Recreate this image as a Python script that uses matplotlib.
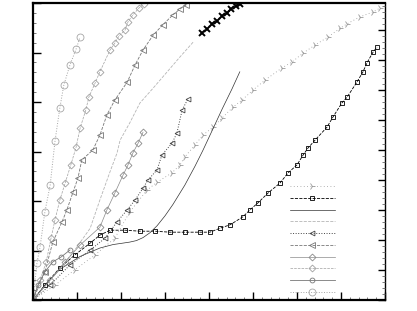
import matplotlib
matplotlib.use("Agg")
import matplotlib.pyplot as plt
from matplotlib.ticker import MultipleLocator

# curves (x 0..8, y 0..6)
a_x = [0, 0.09, 0.16, 0.27, 0.39, 0.50, 0.61, 0.70, 0.84, 0.98, 1.07]
a_y = [0, 0.75, 1.07, 1.78, 2.32, 3.21, 3.88, 4.34, 4.75, 5.07, 5.31]

b_x = [0, 0.16, 0.30, 0.41, 0.50, 0.61, 0.73, 0.86, 0.98, 1.07, 1.20, 1.27, 1.41, 1.52,
       1.75, 1.86, 1.95, 2.09, 2.16, 2.27, 2.41, 2.52]
b_y = [0, 0.40, 0.77, 1.25, 1.62, 2.02, 2.36, 2.73, 3.09, 3.47, 3.84, 4.10, 4.38, 4.61,
       5.05, 5.19, 5.33, 5.45, 5.62, 5.76, 5.90, 5.98]

c_x = [0, 0.27, 0.45, 0.66, 0.77, 0.91, 1.02, 1.11, 1.36, 1.52, 1.68, 1.86, 2.14, 2.32,
       2.50, 2.73, 2.95, 3.18, 3.34, 3.48]
c_y = [0, 0.57, 1.17, 1.58, 1.82, 2.18, 2.46, 2.83, 3.03, 3.33, 3.74, 4.04, 4.40, 4.75,
       5.05, 5.35, 5.56, 5.76, 5.88, 5.96]

d_x = [0, 0.5, 0.95, 1.30, 1.52, 1.75, 1.91, 1.98, 2.20, 2.43, 2.73, 3.05, 3.34, 3.64]
d_y = [0, 0.51, 1.01, 1.45, 2.02, 2.59, 2.97, 3.23, 3.58, 3.98, 4.28, 4.61, 4.91, 5.21]

x_x = [3.84, 3.95, 4.07, 4.18, 4.30, 4.41, 4.50, 4.61, 4.70]
x_y = [5.39, 5.47, 5.58, 5.64, 5.74, 5.80, 5.88, 5.94, 5.98]

e_x = [0, 0.39, 0.73, 1.07, 1.52, 1.68, 1.86, 2.05, 2.16, 2.27, 2.39, 2.50]
e_y = [0, 0.40, 0.77, 1.11, 1.47, 1.82, 2.16, 2.53, 2.73, 2.97, 3.17, 3.39]

g_x = [0, 0.39, 0.84, 1.30, 1.64, 1.91, 2.14, 2.32, 2.50, 2.61, 2.82, 2.93, 3.16, 3.27,
       3.39, 3.52]
g_y = [0, 0.30, 0.71, 1.01, 1.25, 1.58, 1.82, 2.02, 2.26, 2.42, 2.63, 2.93, 3.17, 3.37,
       3.84, 4.06]

h_x = [0, 0.27, 0.61, 1.07, 1.52, 1.82, 2.05, 2.20, 2.35, 2.50, 2.66, 2.82, 3.0, 3.18,
       3.45, 3.68, 3.86, 4.07, 4.30, 4.52, 4.70]
h_y = [0, 0.30, 0.62, 0.88, 1.05, 1.12, 1.15, 1.17, 1.20, 1.26, 1.36, 1.50, 1.70, 1.93,
       2.32, 2.70, 3.02, 3.42, 3.86, 4.26, 4.61]

i_x = [0, 0.27, 0.61, 0.95, 1.30, 1.52, 1.75, 2.09, 2.43, 2.77, 3.11, 3.45, 3.80, 4.02,
       4.25, 4.48, 4.77, 4.93, 5.11, 5.34, 5.61, 5.80, 6.0, 6.14, 6.25, 6.41, 6.68, 6.82,
       7.02, 7.14, 7.36, 7.50, 7.59, 7.73, 7.82]
i_y = [0, 0.30, 0.65, 0.91, 1.15, 1.31, 1.41, 1.41, 1.39, 1.39, 1.37, 1.37, 1.37, 1.37,
       1.45, 1.52, 1.68, 1.82, 1.96, 2.16, 2.36, 2.57, 2.73, 2.93, 3.07, 3.23, 3.49, 3.70,
       3.98, 4.10, 4.40, 4.61, 4.79, 5.01, 5.11]

j_x = [0, 0.5, 0.95, 1.41, 1.86, 2.20, 2.59, 2.82, 3.16, 3.34, 3.45, 3.68, 3.86, 4.09,
       4.30, 4.55, 4.75, 5.0, 5.27, 5.66, 5.89, 6.14, 6.41, 6.70, 6.98, 7.14, 7.43, 7.73, 7.89]
j_y = [0, 0.30, 0.61, 0.91, 1.25, 1.78, 2.22, 2.38, 2.57, 2.73, 2.89, 3.13, 3.33, 3.49,
       3.68, 3.90, 4.04, 4.24, 4.44, 4.69, 4.81, 4.99, 5.15, 5.31, 5.49, 5.58, 5.72, 5.82, 5.90]

k_x = [0, 0.11, 0.27, 0.45, 0.64, 0.84]
k_y = [0, 0.30, 0.57, 0.77, 0.87, 1.01]

fig = plt.figure(figsize=(4.17, 3.11), dpi=100)
ax = fig.add_axes([33 / 417, 11 / 311, 352 / 417, 297 / 311])

mw = 0.6
# one line per series, the order here is the legend order
lj, = ax.plot(j_x, j_y, ls=(0, (1, 3)), lw=0.6, color="#9a9a9a", marker="4", ms=5, mew=mw)
li, = ax.plot(i_x, i_y, ls="--", lw=0.6, color="black", marker="s", ms=3.5, mfc="none", mew=mw)
lh, = ax.plot(h_x, h_y, ls="-", lw=0.5, color="#333333")
ld, = ax.plot(d_x, d_y, ls="--", lw=0.6, color="#b5b5b5")
lg, = ax.plot(g_x, g_y, ls=":", lw=0.7, color="#444444", marker="<", ms=3.5, mfc="none", mew=mw)
lc, = ax.plot(c_x, c_y, ls="--", lw=0.6, color="#777777", marker="<", ms=4, mfc="none", mew=mw)
le, = ax.plot(e_x, e_y, ls="-", lw=0.5, color="#8a8a8a", marker="D", ms=3.5, mfc="none", mew=mw)
lb, = ax.plot(b_x, b_y, ls="--", lw=0.5, color="#a0a0a0", marker="D", ms=3.5, mfc="none", mew=mw)
lk, = ax.plot(k_x, k_y, ls="-", lw=0.6, color="#777777", marker="o", ms=3.5, mfc="none", mew=mw)
la, = ax.plot(a_x, a_y, ls=":", lw=0.7, color="#a5a5a5", marker="o", ms=5, mfc="none", mew=mw)
ax.plot(x_x, x_y, ls="none", color="black", marker="x", ms=4, mew=1.4)

ax.set_xlim(0, 8)
ax.set_ylim(0, 6)

ax.xaxis.set_major_locator(MultipleLocator(1))
ax.xaxis.set_minor_locator(MultipleLocator(0.2))
ax.yaxis.set_major_locator(MultipleLocator(1))
ax.yaxis.set_minor_locator(MultipleLocator(0.2))
ax.tick_params(which="both", direction="in", labelbottom=False, labelleft=False,
               top=False, right=False)
ax.tick_params(which="major", length=5.5, width=1)
ax.tick_params(which="minor", length=2.5, width=0.6, color="#666666")

for side in ["left", "bottom", "top"]:
    ax.spines[side].set_linewidth(1.6)
ax.spines["right"].set_linewidth(1.0)

# ticks on the right side have their own spacing
ax2 = ax.twinx()
ax2.set_ylim(0, 9.9)
ax2.yaxis.set_major_locator(MultipleLocator(1))
ax2.yaxis.set_minor_locator(MultipleLocator(0.2))
ax2.tick_params(which="both", direction="in", labelright=False)
ax2.tick_params(which="major", length=5, width=1)
ax2.tick_params(which="minor", length=2.5, width=0.6, color="#666666")
for side in ["left", "bottom", "top", "right"]:
    ax2.spines[side].set_visible(False)

handles = [lj, li, lh, ld, lg, lc, le, lb, lk, la]
ax.legend(handles, [" "] * len(handles), loc="upper left",
          bbox_to_anchor=(0.73, 0.397), frameon=False, fontsize=6,
          handlelength=5.4, labelspacing=0.33, borderpad=0, borderaxespad=0,
          handletextpad=0.2)

fig.savefig("out.png", dpi=100)
